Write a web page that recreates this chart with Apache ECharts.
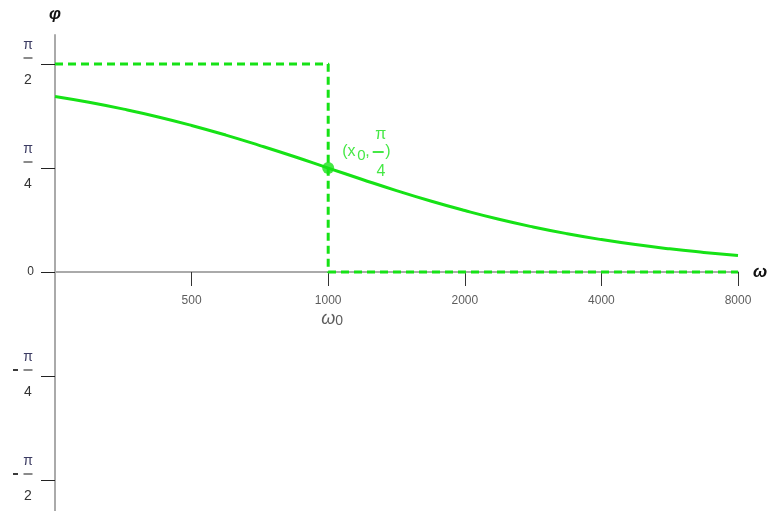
<!DOCTYPE html>
<html>
<head>
<meta charset="utf-8">
<script src="https://cdn.jsdelivr.net/npm/echarts@6/dist/echarts.min.js"></script>
<style>
  html, body { margin: 0; padding: 0; background: #fff; }
  #container { width: 769px; height: 511px; }
</style>
</head>
<body>
<div id="container"></div>
<script>
const container = document.getElementById('container');
const chartIns = echarts.init(container);

// curve: phase φ (rad) vs ω
const omega = [250, 297, 354, 420, 500, 595, 707, 841, 1000, 1189, 1414, 1682, 2000, 2378, 2828, 3364, 4000, 4757, 5657, 6727, 8000];
const phi = [1.326, 1.282, 1.230, 1.173, 1.107, 1.034, 0.955, 0.872, 0.785, 0.699, 0.615, 0.536, 0.464, 0.398, 0.340, 0.289, 0.245, 0.207, 0.175, 0.148, 0.124];

// guide lines and marked point
const guideX = [250, 1000, 1000, 8000];
const guideY = [Math.PI / 2, Math.PI / 2, 0, 0];
const pointX = 1000;
const pointY = Math.PI / 4;

// ticks
const xTicks = [500, 1000, 2000, 4000, 8000];
const xTickLabels = ['500', '1000', '2000', '4000', '8000'];
const yTicks = [Math.PI / 2, Math.PI / 4, 0, -Math.PI / 4, -Math.PI / 2];
const yTickLabels = ['π/2', 'π/4', '0', '-π/4', '-π/2'];

const GREEN = '#16e216';
const FONT = '"Liberation Sans", Arial, sans-serif';

// stacked fraction, bar and minus drawn as small filled token boxes
function fracLabel(text) {
  if (text === '0') return '{z|0}';
  const neg = text[0] === '-';
  const parts = text.replace('-', '').split('/');
  return '{sp| }{n|' + parts[0] + '}\n' +
    '{g1| }' + (neg ? '{m| }' : '{g5| }') + '{g2| }{bar| }{g3| }\n' +
    '{sp3| }{d|' + parts[1] + '}';
}

const option = {
  animation: false,
  grid: { left: 55, right: 31, top: 35, bottom: 0, outerBoundsMode: 'none' },
  xAxis: {
    type: 'log',
    logBase: 2,
    min: 250,
    max: 8000,
    name: 'ω',
    nameGap: 15,
    nameTextStyle: { fontSize: 17, fontWeight: 'bold', fontStyle: 'italic', color: '#111', fontFamily: FONT },
    axisLine: { onZero: true, lineStyle: { color: '#aaa', width: 2 } },
    axisTick: { length: 14, customValues: xTicks, lineStyle: { color: '#333' } },
    splitLine: { show: false },
    axisLabel: { show: false }
  },
  yAxis: {
    type: 'value',
    min: -1.805,
    max: 1.79,
    name: 'φ',
    nameGap: 12,
    nameTextStyle: { fontSize: 17, fontWeight: 'bold', fontStyle: 'italic', color: '#111', fontFamily: FONT },
    axisLine: { show: true, onZero: false, lineStyle: { color: '#aaa', width: 2 } },
    axisTick: { show: true, length: 14, customValues: yTicks, lineStyle: { color: '#222' } },
    splitLine: { show: false },
    axisLabel: {
      customValues: yTicks,
      margin: 21,
      padding: [6, 0, 0, 0],
      formatter: v => {
        const i = yTicks.findIndex(t => Math.abs(t - v) < 1e-6);
        return fracLabel(i >= 0 ? yTickLabels[i] : '');
      },
      rich: {
        sp: { width: 12, fontSize: 13, lineHeight: 16, fontFamily: FONT },
        n: { width: 12, align: 'center', fontSize: 14, color: '#3b3b62', lineHeight: 16, fontFamily: FONT },
        g1: { width: 3, height: 2, lineHeight: 10, fontSize: 2 },
        g5: { width: 5, height: 2, lineHeight: 10, fontSize: 2 },
        m: { width: 5, height: 2, lineHeight: 10, fontSize: 2, backgroundColor: '#3a3a3a' },
        g2: { width: 5.5, height: 2, lineHeight: 10, fontSize: 2 },
        bar: { width: 9, height: 2, lineHeight: 10, fontSize: 2, backgroundColor: '#8a8a8a' },
        g3: { width: 1.5, height: 2, lineHeight: 10, fontSize: 2 },
        sp3: { width: 12, fontSize: 13, lineHeight: 34, fontFamily: FONT },
        d: { width: 12, align: 'center', fontSize: 14, color: '#333', lineHeight: 34, fontFamily: FONT },
        z: { fontSize: 12, color: '#333', fontFamily: FONT, padding: [0, 0, 6, 0] }
      }
    }
  },
  series: [
    {
      type: 'line',
      data: omega.map((w, i) => [w, phi[i]]),
      smooth: true,
      symbol: 'none',
      lineStyle: { color: GREEN, width: 3 },
      silent: true,
      z: 3
    },
    {
      type: 'line',
      data: guideX.map((w, i) => [w, guideY[i]]),
      symbol: 'none',
      lineStyle: { color: GREEN, width: 3, type: [8, 5] },
      silent: true,
      z: 2
    },
    {
      // x tick labels
      type: 'scatter',
      data: xTicks.map(v => [v, 0]),
      symbolSize: 1,
      itemStyle: { color: 'rgba(0,0,0,0)' },
      silent: true,
      label: {
        show: true,
        position: 'bottom',
        distance: 21,
        color: '#333',
        fontSize: 12,
        fontFamily: FONT,
        lineHeight: 14,
        formatter: p => {
          const s = xTickLabels[p.dataIndex];
          return s === '1000' ? '1000\n{w|ω}{s|0}' : s;
        },
        rich: {
          w: { fontSize: 18, fontStyle: 'italic', color: '#333', fontFamily: FONT, lineHeight: 22, padding: [0, 0, 0, 8] },
          s: { fontSize: 14, color: '#333', fontFamily: FONT, lineHeight: 22, padding: [6, 0, 0, 0] }
        }
      }
    },
    {
      type: 'scatter',
      data: [[pointX, pointY]],
      symbolSize: 12,
      itemStyle: { color: GREEN },
      silent: true,
      z: 4,
      label: {
        show: true,
        position: 'right',
        distance: 8,
        offset: [0, -13],
        color: GREEN,
        formatter: () => '{sp| }{n|π}\n{a|(x}{s|0}{c|,}{g| }{bar| }{g| }{p|)}\n{sp3| }{d|4}',
        rich: {
          sp: { width: 29, fontSize: 15, lineHeight: 16, fontFamily: FONT },
          n: { width: 14, align: 'center', fontSize: 16, color: GREEN, lineHeight: 16, fontFamily: FONT },
          a: { width: 15, fontSize: 16, color: GREEN, lineHeight: 18, fontFamily: FONT },
          s: { width: 8, fontSize: 15, color: GREEN, lineHeight: 18, fontFamily: FONT, padding: [7, 0, 0, 0] },
          c: { width: 6, fontSize: 16, color: GREEN, lineHeight: 18, fontFamily: FONT },
          g: { width: 1.5, height: 2, fontSize: 2, lineHeight: 12 },
          bar: { width: 11, height: 2, fontSize: 2, lineHeight: 12, backgroundColor: GREEN },
          p: { fontSize: 16, color: GREEN, lineHeight: 18, fontFamily: FONT },
          sp3: { width: 29, fontSize: 15, lineHeight: 22, fontFamily: FONT },
          d: { width: 14, align: 'center', fontSize: 16, color: GREEN, lineHeight: 22, fontFamily: FONT }
        }
      }
    }
  ]
};

chartIns.setOption(option);
</script>
</body>
</html>
